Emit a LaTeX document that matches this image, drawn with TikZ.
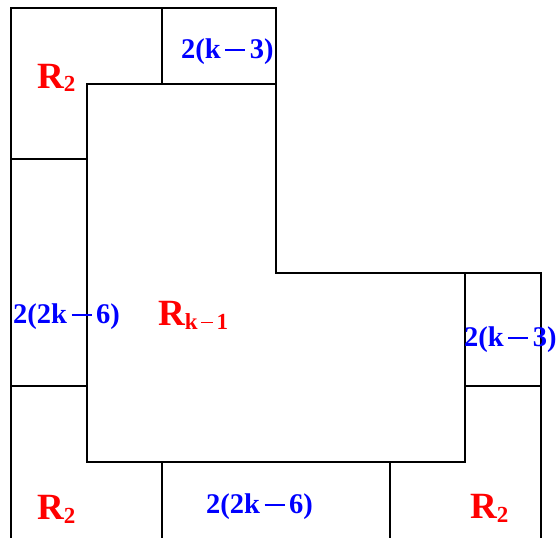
\documentclass[tikz,border=0pt]{standalone}
\usepackage{fontspec}
\setmainfont{Liberation Serif}
\newcommand{\lowsub}[1]{\raisebox{-4pt}{\fontsize{23}{23}\selectfont #1}}
\newcommand{\barminus}[1][0.7em]{\hspace{0.16em}\rule[0.24em]{#1}{0.075em}\hspace{0.16em}}

\begin{document}
\begin{tikzpicture}[x=1pt,y=-1pt,
    region/.style={anchor=base west,inner sep=0pt,text=red,font=\bfseries\fontsize{37}{37}\selectfont},
    count/.style={anchor=base west,inner sep=0pt,text=blue,font=\bfseries\fontsize{28.5}{28.5}\selectfont}]
	\useasboundingbox (0,0) rectangle (558,538);
	
	% outer boundary
	\draw[line width=2pt] (11,538) -- (11,8) -- (276,8) -- (276,273) -- (541,273) -- (541,538);
	
	% the region R_{k-1}
	\draw[line width=2pt] (87,84) -- (276,84) -- (276,273) -- (465,273) -- (465,462) -- (87,462) -- cycle;
	
	% dividers
	\draw[line width=2pt] (162,8) -- (162,84);
	\draw[line width=2pt] (11,159) -- (87,159);
	\draw[line width=2pt] (11,386) -- (87,386);
	\draw[line width=2pt] (162,462) -- (162,538);
	\draw[line width=2pt] (390,462) -- (390,538);
	\draw[line width=2pt] (465,386) -- (541,386);
	
	\node[region] (rtl) at (37,88) {R\lowsub{2}};
	\node[region] (rbl) at (37,519) {R\lowsub{2}};
	\node[region] (rbr) at (470,518) {R\lowsub{2}};
	\node[region] (rmid) at (158,325) {R\lowsub{k\barminus[0.5em]1}};
	
	\node[count] (ctop) at (181,58) {2(k\barminus3)};
	\node[count] (cleft) at (13,323) {2(2k\barminus6)};
	\node[count] (cright) at (464,346) {2(k\barminus3)};
	\node[count] (cbot) at (206,513) {2(2k\barminus6)};
\end{tikzpicture}
\end{document}
